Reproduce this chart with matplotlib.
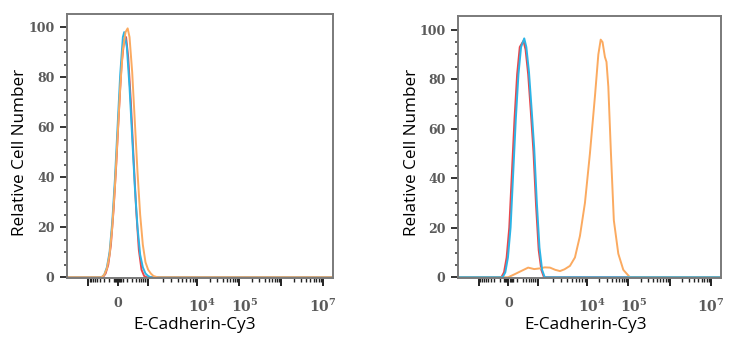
import numpy as np
import matplotlib

matplotlib.use('Agg')
import matplotlib.pyplot as plt
import matplotlib.transforms as mtransforms

plt.rcParams['font.family'] = ['Open Sans', 'DejaVu Sans']
plt.rcParams['mathtext.fontset'] = 'dejavuserif'

# x positions are in display units (0-100 across the axis, biexponential-like scale)
x_major = [8.0, 19.2, 30.4, 49.0, 64.8, 80.5, 96.2]
x_major_labels = ['', '0', '', r'$\mathbf{10^4}$', r'$\mathbf{10^5}$', '', r'$\mathbf{10^7}$']
y_major = [0, 20, 40, 60, 80, 100]

# left panel: all samples overlap
L_red_x = [0, 13.5, 14.5, 15.5, 16.5, 17.5, 18.5, 19.5, 20.5, 21.5, 22.2, 23.0, 24.0, 25.0, 26.0, 27.0, 28.0, 29.0, 30.0, 100]
L_red_y = [0, 0, 1.5, 5, 13, 27, 45, 66, 85, 95, 96, 88, 70, 48, 27, 11, 3, 0.5, 0, 0]
L_cyan_x = [0, 13.0, 14.0, 15.0, 16.0, 17.0, 18.0, 19.0, 20.0, 21.0, 21.5, 22.5, 23.5, 24.5, 25.5, 26.5, 27.5, 28.5, 29.5, 30.5, 31.5, 100]
L_cyan_y = [0, 0, 1, 4, 10, 22, 39, 60, 81, 96, 98, 92, 76, 56, 36, 20, 9, 4, 1.5, 0.5, 0, 0]
L_orange_x = [0, 13.0, 14.0, 15.0, 16.0, 17.0, 18.0, 19.0, 20.0, 21.0, 22.0, 22.8, 23.5, 24.5, 25.5, 26.5, 27.5, 28.5, 29.5, 30.5, 31.5, 32.5, 34.0, 100]
L_orange_y = [0, 0, 1, 3.5, 9, 20, 36, 56, 76, 91, 98, 99.5, 96, 82, 62, 42, 25, 13, 6, 3, 1.5, 0.5, 0, 0]

# right panel: stained sample shifted
R_red_x = [0, 16.5, 17.5, 18.5, 19.5, 20.5, 21.5, 22.5, 23.5, 24.9, 25.7, 26.7, 27.7, 28.7, 29.7, 30.7, 31.7, 32.7, 100]
R_red_y = [0, 0, 2, 8, 20, 42, 64, 82, 93, 95.5, 92, 82, 67, 51, 29, 11, 3, 0, 0]
R_cyan_x = [0, 17.0, 18.0, 19.0, 20.0, 21.0, 22.0, 23.0, 24.0, 25.2, 26.0, 27.0, 28.0, 29.0, 30.0, 31.0, 32.0, 33.0, 100]
R_cyan_y = [0, 0, 2, 8, 20, 42, 64, 82, 93, 96.5, 93, 83, 68, 52, 30, 12, 3, 0, 0]
R_orange_x = [0, 19.1, 21.5, 24.0, 26.7, 29.0, 31.2, 33.0, 35.0, 37.0, 38.8, 40.5, 42.6, 44.5, 46.4, 48.3, 50.2, 52.1, 53.4,
              54.3, 55.0, 55.9, 56.5, 57.2, 58.2, 59.3, 61.0, 62.9, 65.4, 100]
R_orange_y = [0, 0, 1.2, 2.5, 3.9, 3.3, 3.6, 4.0, 3.9, 3.0, 2.5, 3.2, 4.6, 8, 16.7, 30, 50, 73, 90,
              96, 95, 89, 87, 77, 50, 23, 9.5, 3, 0, 0]

red = '#e8474c'
cyan = '#2cb4e6'
orange = '#fbaa60'


def x_minor_ticks():
    ticks = []
    # negative side of zero, mirrored log spacing
    for k in range(2, 10):
        ticks.append(x_major[1] - (x_major[1] - x_major[0]) * np.log10(k))
    # positive side up to 10^3 and beyond
    for i in range(1, len(x_major) - 1):
        a, b = x_major[i], x_major[i + 1]
        for k in range(2, 10):
            ticks.append(a + (b - a) * np.log10(k))
    # dense ticks around zero
    ticks += [17.5, 18.0, 18.4, 18.8, 19.6, 20.0, 20.4, 20.9]
    return ticks


def style_axes(ax, ytop, ylab_pos, xlab_pos):
    ax.set_xlim(0, 100)
    ax.set_ylim(-0.3, ytop)
    for side in ['left', 'bottom', 'top', 'right']:
        ax.spines[side].set_color('#7a7a7a')
        ax.spines[side].set_linewidth(1.4)
    ax.set_yticks(y_major)
    ax.set_yticks(np.arange(0, 101, 5), minor=True)
    ax.set_xticks(x_major)
    ax.set_xticklabels(x_major_labels)
    ax.set_xticks(x_minor_ticks(), minor=True)
    ax.tick_params(axis='y', which='major', length=5, width=1.4, color='#333333', pad=4)
    ax.tick_params(axis='y', which='minor', length=2.5, width=1.1, color='#333333')
    ax.tick_params(axis='x', which='major', length=6, width=1.4, color='#222222', pad=8)
    ax.tick_params(axis='x', which='minor', length=3, width=1.0, color='#222222')
    for lab in ax.get_yticklabels() + ax.get_xticklabels():
        lab.set_family('DejaVu Serif')
        lab.set_fontweight('bold')
        lab.set_color('#5a5a5a')
        lab.set_fontsize(9)
    for lab in ax.get_xticklabels()[3:]:
        lab.set_fontsize(10)
    # shift the 10^4 / 10^5 labels a little to the right, as in the source image
    shift = mtransforms.ScaledTranslation(5 / 100, 0, fig.dpi_scale_trans)
    for lab in ax.get_xticklabels()[3:5]:
        lab.set_transform(lab.get_transform() + shift)
    ax.set_xlabel('E-Cadherin-Cy3', fontsize=12.3, va='center')
    ax.set_ylabel('Relative Cell Number', fontsize=12.3, va='center')
    ax.xaxis.set_label_coords(*xlab_pos)
    ax.yaxis.set_label_coords(*ylab_pos)


fig = plt.figure(figsize=(7.34, 3.5), dpi=100)
ax1 = fig.add_axes([0.0913, 0.2057, 0.3624, 0.754])
ax2 = fig.add_axes([0.624, 0.2057, 0.358, 0.749])

lw = 1.4
ax1.plot(L_red_x, L_red_y, color=red, lw=lw)
ax1.plot(L_cyan_x, L_cyan_y, color=cyan, lw=lw)
ax1.plot(L_orange_x, L_orange_y, color=orange, lw=lw)

ax2.plot(R_red_x, R_red_y, color=red, lw=lw)
ax2.plot(R_orange_x, R_orange_y, color=orange, lw=lw)
ax2.plot(R_cyan_x, R_cyan_y, color=cyan, lw=lw)

style_axes(ax1, 105.2, (-0.177, 0.477), (0.481, -0.178))
style_axes(ax2, 105.6, (-0.175, 0.48), (0.487, -0.178))

fig.savefig('out.png', dpi=100)
